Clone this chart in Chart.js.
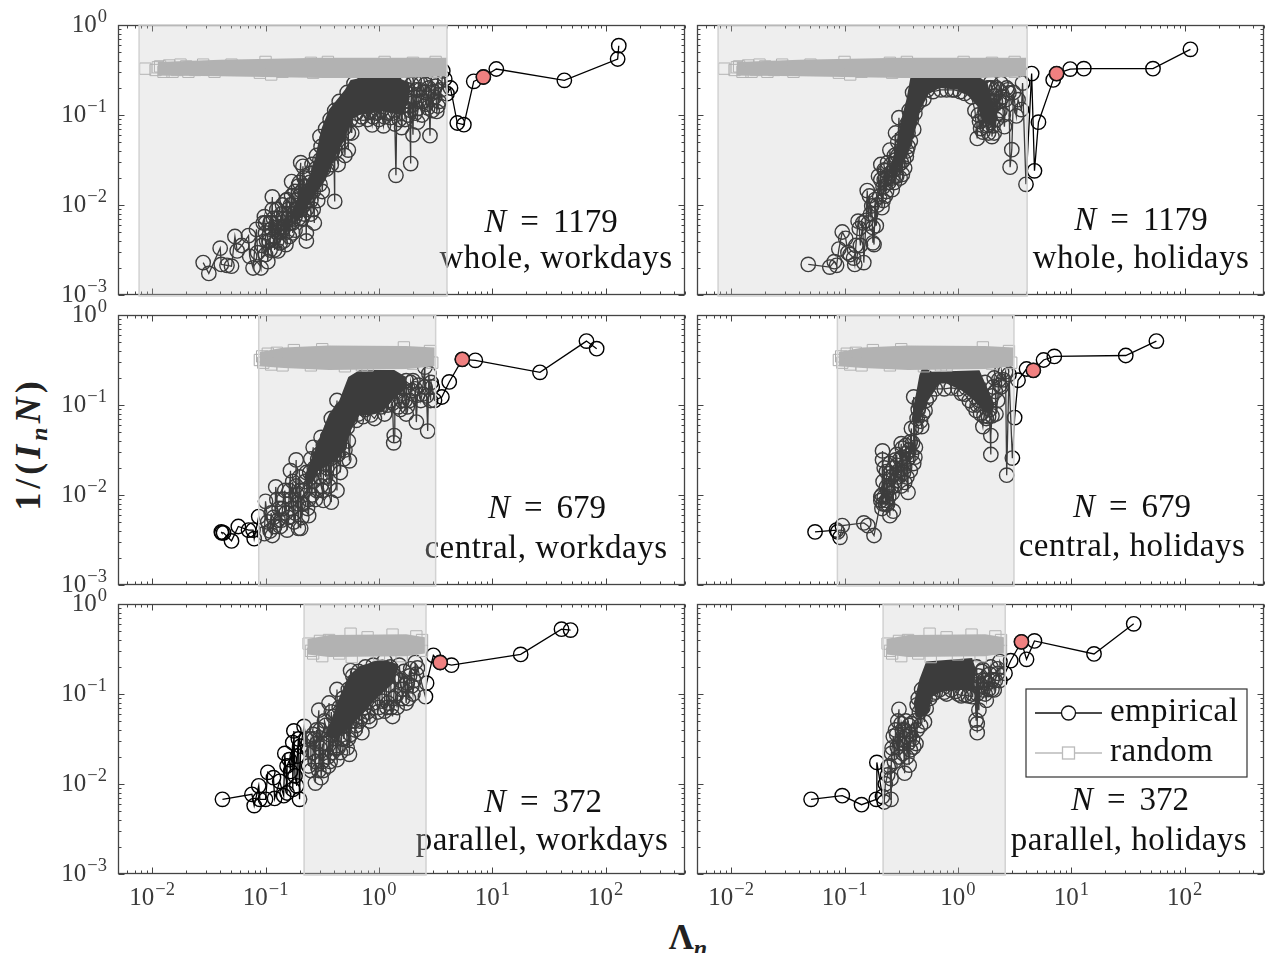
<!DOCTYPE html>
<html>
<head>
<meta charset="utf-8">
<script src="https://cdn.jsdelivr.net/npm/chart.js@4"></script>
<style>
  html, body { margin: 0; background: #fff; }
  body { position: relative; width: 1265px; height: 953px; overflow: hidden; font-family: "Liberation Serif", serif; }
  canvas { position: absolute; }
  .axisTitle { position: absolute; font-weight: bold; color: #222; white-space: nowrap; }
  .axisTitle sub { font-size: 24px; font-style: italic; vertical-align: -7px; line-height: 0; }
  #yTitle { left: 28px; top: 444px; font-size: 36px; letter-spacing: 4px; transform: translate(-50%, -50%) rotate(-90deg); }
  #xTitle { left: 688px; top: 938px; font-size: 35px; transform: translate(-50%, -50%); }
</style>
</head>
<body>
<div class="axisTitle" id="yTitle">1/(<i>I</i><sub>n</sub><i>N</i>)</div>
<div class="axisTitle" id="xTitle">Λ<sub>n</sub></div>
<script>
// all values as [log10(Lambda_n), log10(1/(I_n N))]
const xTickExps = [-2, -1, 0, 1, 2];
const yTickExps = [0, -1, -2, -3];

const wholeRandom = [[-2.06,-.485],[-1.97,-.5],[-1.95,-.47],[-1.93,-.46],[-1.9,-.52],[-1.88,-.49],[-1.85,-.45],[-1.82,-.52],[-1.78,-.5],[-1.75,-.44],[-1.7,-.46],[-1.68,-.52],[-1.62,-.5],[-1.55,-.44],[-1.45,-.52],[-1.3,-.44],[-1.05,-.53],[-1,-.41],[-.95,-.55],[-.85,-.52],[-.6,-.42],[-.58,-.53],[-.45,-.41],[-.2,-.52],[.05,-.41],[.3,-.42],[.5,-.41],[.5,-.52]];
const centralRandom = [[-1.05,-.5],[-1.03,-.46],[-1.02,-.53],[-.98,-.43],[-.95,-.55],[-.9,-.42],[-.85,-.56],[-.75,-.39],[-.6,-.56],[-.5,-.38],[-.3,-.57],[-.15,-.56],[-.1,-.56],[.22,-.36],[.3,-.54],[.45,-.4],[.47,-.53]];
const parallelRandom = [[-.62,-.44],[-.6,-.52],[-.58,-.55],[-.52,-.41],[-.5,-.58],[-.44,-.4],[-.35,-.55],[-.25,-.33],[-.24,-.59],[-.1,-.37],[0,-.56],[.12,-.34],[.2,-.58],[.33,-.36],[.38,-.4],[.38,-.52]];

// outline of where the random squares merge into a solid band
const wholeRandomBand = [[-1.95,-.41],[-1.4,-.385],[-.5,-.365],[.2,-.365],[.6,-.365],[.6,-.57],[.2,-.59],[-.5,-.59],[-1.4,-.57],[-1.95,-.56]];
const centralRandomBand = [[-1.05,-.41],[-.84,-.36],[-.44,-.34],[.24,-.345],[.49,-.36],[.49,-.57],[.24,-.6],[-.44,-.61],[-.84,-.59],[-1.05,-.57]];
const parallelRandomBand = [[-.63,-.39],[-.44,-.345],[.24,-.335],[.405,-.37],[.405,-.55],[.24,-.58],[-.44,-.59],[-.63,-.56]];

const wholeWork = [[-1.55,-2.64],[-1.5,-2.76],[-1.4,-2.48],[-1.39,-2.66],[-1.34,-2.67],[-1.3,-2.68],[-1.27,-2.35],[-1.25,-2.51],[-1.21,-2.45],[-1.15,-2.34],[-1.14,-2.57],[-1.11,-2.7],[-1.08,-2.27],[-1.07,-2.53],[-1.04,-2.7],[-1.01,-2.13],[-1,-2.31],[-.98,-2.63],[-.94,-1.91],[-.94,-2.05],[-.95,-2.27],[-.89,-2.51],[-.87,-2.24],[-.82,-2.44],[-.81,-1.94],[-.77,-1.74],[-.76,-2.31],[-.74,-2.13],[-.69,-1.53],[-.67,-1.57],[-.64,-2.4],[-.57,-2.2],[-.58,-2.05],[-.64,-2.31],[-.67,-2.01],[-.71,-1.79],[-.52,-1.77],[-.39,-1.96],[-.385,-1.2],[-.44,-1.46],[-.52,-1.24],[-.27,-1.39],
[-1,-2.2],[-.97,-2.4],[-.93,-2.15],[-.92,-2.35],[-.9,-2.05],[-.88,-2.3],[-.86,-2.1],[-.84,-2.25],[-.82,-1.95],[-.8,-2.15],[-.78,-2],[-.76,-2.2],[-.74,-1.85],[-.72,-2.05],[-.7,-1.9],[-.68,-2.15],[-.66,-1.7],[-.64,-2.05],[-.62,-1.9],[-.6,-1.65],[-.6,-2.1],[-.58,-1.85],[-.56,-1.6],[-.54,-1.95],[-.52,-1.5],[-.5,-1.85],[-.48,-1.4],[-.46,-1.6],[-.44,-1.3],[-.42,-1.55],[-.4,-1.2],[-.38,-1.4],[-.36,-1.55],[-.33,-1.3],[-.3,-1.45],[-.27,-1.2],[-.24,-1.2],
[-1.03,-2.45],[-1.02,-2.2],[-1,-2.55],[-.99,-2.4],[-.96,-2.5],[-.96,-2.2],[-.94,-2.38],[-.92,-2.5],[-.91,-2.25],[-.9,-2.4],[-.89,-2.15],[-.87,-2.42],[-.86,-2.3],[-.85,-2],[-.84,-2.4],[-.83,-2.15],[-.81,-2.3],[-.8,-2.05],[-.79,-2.35],[-.78,-2.2],[-.77,-1.9],[-.75,-2.1],[-.74,-2.28],[-.73,-1.95],[-.71,-2.15],[-.7,-1.75],[-.69,-2.05],[-.68,-1.85],[-.66,-2.1],[-.65,-1.8],[-.63,-1.95],[-.61,-1.75],[-.6,-1.95],[-.59,-1.55],[-.57,-1.75],[-.55,-1.45],[-.53,-1.65],[-.51,-1.35],[-.49,-1.6],[-.47,-1.15],[-.45,-1.45],[-.43,-1.05],[-.41,-1.4],[-.39,-.95],[-.37,-1.25],[-.35,-.85],[-.31,-1.15],[-.28,-.75],[-.25,-1.05],[-.22,-.65],[-.2,-.98],
[-.18,-1.05],[-.15,-1.02],[-.14,-.98],[-.12,-.6],[-.1,-1.05],[-.08,-.97],[-.06,-1.11],[-.05,-1.02],[-.02,-.98],[0,-1.05],[.02,-.95],[.04,-1.12],[.05,-1.02],[.08,-.98],[.1,-1.03],[.12,-.98],[.13,-.62],[.14,-1.1],[.15,-1.67],[.16,-.7],[.18,-1.05],[.19,-.8],[.2,-1.14],[.21,-.9],[.22,-.65],[.23,-1.05],[.24,-.62],[.25,-.72],[.26,-1],[.27,-.85],[.28,-1.54],[.28,-.95],[.29,-.66],[.3,-1.22],[.31,-.62],[.31,-.8],[.32,-.98],[.33,-.72],[.34,-1.08],[.34,-.93],[.35,-.85],[.36,-.72],[.37,-.65],[.38,-1],[.39,-.85],[.4,-.75],[.41,-.66],[.42,-.88],[.43,-.92],[.44,-.7],[.45,-1.23],[.46,-.6],[.47,-.95],[.48,-.74],[.49,-.8],[.5,-.68],[.51,-.96],[.52,-.9],[.52,-.62],[.53,-.85],[.55,-.72],[.563,-.51],[.58,-.6],
[.6,-.763],[.631,-.7],[.691,-1.089],[.749,-1.107],[.836,-.626],[.921,-.578],[1.035,-.489],[1.635,-.615],[2.105,-.378],[2.115,-.23]];
const wholeWorkCore = [[-.78,-2.1],[-.64,-1.79],[-.56,-1.46],[-.51,-1.16],[-.44,-.94],[-.3,-.72],[-.25,-.61],[-.13,-.58],[.17,-.59],[.27,-.64],[.27,-.83],[.2,-1],[.03,-.96],[-.17,-1],[-.24,-1.05],[-.3,-1.27],[-.4,-1.5],[-.47,-1.72],[-.57,-1.9],[-.72,-2.2]];
const wholeWorkPeak = [[.921,-.578]];

const wholeHoli = [[-1.32,-2.66],[-1.13,-2.69],[-1.09,-2.63],[-1.07,-2.67],[-1.05,-2.49],[-1.02,-2.3],[-.99,-2.37],[-.97,-2.53],[-.92,-2.59],[-.91,-2.66],[-.88,-2.18],[-.87,-2.26],[-.83,-2.64],[-.81,-2.17],[-.8,-1.84],[-.78,-1.9],[-.76,-2.01],[-.75,-2.42],[-.74,-2.44],[-.73,-1.94],[-.72,-2.23],[-.7,-1.68],[-.68,-1.55],[-.67,-2.03],[-.65,-1.61],[-.65,-1.72],[-.62,-1.53],[-.6,-1.39],[-.58,-1.83],[-.57,-1.61],[-.55,-1.2],[-.55,-1.5],[-.54,-1.68],[-.52,-1.03],[-.5,-1.39],[-.5,-1.53],[-.49,-1.66],[-.47,-1.59],[-.455,-1.46],[-.44,-1.35],[-.42,-1.29],[-.39,-1.16],
[-.66,-1.8],[-.64,-1.9],[-.62,-1.7],[-.6,-1.65],[-.56,-1.75],[-.53,-1.45],[-.47,-1.3],[-.45,-1.1],[-.42,-1],[-.38,-.98],[-.34,-.85],
[-.95,-2.55],[-.9,-2.45],[-.86,-2.45],[-.84,-2.2],[-.79,-2.2],[-.77,-2.1],[-.75,-2.25],[-.71,-2],[-.69,-1.9],[-.68,-1.72],[-.66,-1.95],[-.64,-1.62],[-.63,-1.85],[-.61,-1.75],[-.59,-1.55],[-.58,-1.7],[-.56,-1.45],[-.55,-1.68],[-.53,-1.3],[-.52,-1.55],[-.51,-1.7],[-.49,-1.25],[-.48,-1.5],[-.46,-1.15],[-.45,-1.4],[-.44,-1.2],[-.43,-.95],[-.41,-1.05],[-.4,-.75],[-.37,-.9],[-.35,-.75],[-.3,-.82],[-.27,-.72],[-.22,-.74],[-.15,-.72],[-.1,-.72],[-.05,-.72],[.02,-.74],[.06,-.76],[.12,-.8],[.15,-.95],[.18,-1],[.2,-1.15],[.23,-1],[.25,-1.12],[.26,-.7],[.27,-1.2],[.28,-.9],[.3,-.7],[.31,-1.12],[.33,-.85],[.34,-1.05],[.36,-.72],[.37,-.95],[.39,-.8],[.4,-1],[.43,-.7],
[-.03,-.72],[.1,-.62],[.17,-1.26],[.19,-1.07],[.21,-.75],[.22,-1.19],[.24,-.95],[.255,-.83],[.27,-1.11],[.28,-.7],[.29,-.64],[.3,-1.24],[.31,-.9],[.32,-1.2],[.32,-.79],[.34,-.7],[.35,-.98],[.37,-.85],[.38,-.65],[.41,-1.13],[.42,-.83],[.44,-.72],[.45,-.755],[.46,-1.58],[.475,-1.385],[.49,-.75],[.515,-1.01],[.53,-.83],[.56,-.94],[.57,-.645],[.6,-1.77],[.65,-.54],[.675,-1.62],[.71,-1.08],[.84,-.61],[.87,-.54],[.99,-.49],[1.11,-.485],[1.72,-.485],[2.05,-.27]];
const wholeHoliCore = [[-.6,-1.6],[-.55,-1.39],[-.5,-1.05],[-.455,-.83],[-.42,-.59],[-.36,-.58],[.19,-.58],[.26,-.64],[.3,-.83],[.35,-1.01],[.33,-1.14],[.22,-1.09],[.17,-.9],[.09,-.79],[0,-.72],[-.16,-.7],[-.26,-.77],[-.33,-.94],[-.39,-1.24],[-.455,-1.46],[-.54,-1.61],[-.58,-1.72]];
const wholeHoliPeak = [[.87,-.54]];

const centralWork = [[-1.39,-2.41],[-1.385,-2.42],[-1.37,-2.42],[-1.3,-2.51],[-1.24,-2.35],[-1.15,-2.39],[-1.11,-2.39],[-1.1,-2.485],[-1.06,-2.24],[-1.01,-2.43],[-1,-2.07],[-.94,-2.45],[-.91,-1.91],[-.89,-2.28],[-.81,-2.39],[-.78,-1.73],[-.73,-1.61],[-.71,-2.37],[-.69,-2.37],[-.62,-2.23],[-.58,-1.47],[-.51,-1.36],[-.49,-2.06],[-.42,-2.08],[-.42,-1.15],[-.37,-1.95],[-.37,-.95],[-.26,-1.62],
[-.95,-2.2],[-.9,-2.05],[-.87,-2.35],[-.85,-2.15],[-.83,-1.95],[-.8,-2.25],[-.78,-2.05],[-.76,-1.85],[-.74,-2.2],[-.72,-2],[-.7,-1.8],[-.68,-2.25],[-.66,-1.95],[-.64,-1.75],[-.62,-2.05],[-.6,-1.6],[-.58,-1.85],[-.56,-2.05],[-.54,-1.6],[-.52,-1.8],[-.5,-1.95],[-.48,-1.5],[-.46,-1.7],[-.44,-1.9],[-.42,-1.45],[-.4,-1.7],[-.38,-1.35],[-.36,-1.55],[-.34,-1.75],[-.32,-1.3],[-.3,-1.5],[-.28,-1.25],
[-.98,-2.3],[-.96,-2.4],[-.93,-2.25],[-.92,-2.35],[-.88,-2.15],[-.86,-2.28],[-.84,-2.05],[-.82,-2.2],[-.79,-1.95],[-.77,-2.15],[-.75,-2.3],[-.73,-1.9],[-.71,-2.1],[-.69,-1.95],[-.67,-2.1],[-.65,-1.85],[-.63,-2.15],[-.61,-1.75],[-.59,-2],[-.57,-1.7],[-.55,-1.95],[-.53,-1.55],[-.51,-1.9],[-.49,-1.45],[-.47,-1.8],[-.45,-1.35],[-.43,-1.6],[-.41,-1.25],[-.39,-1.55],[-.37,-1.15],[-.35,-1.45],[-.33,-1.05],[-.31,-1.6],[-.29,-1.2],[-.27,-1.4],[-.25,-1.15],[-.22,-1.05],[-.18,-1.1],[-.12,-1.05],[-.04,-1.15],[.02,-1.02],[.08,-1],[.12,-.98],[.16,-.85],[.19,-1.05],[.22,-.82],[.23,-.95],[.27,-.95],[.28,-.75],[.32,-.82],[.35,-.78],[.38,-.88],[.42,-.9],[.46,-.75],
[-.2,-1.17],[-.14,-1.13],[-.07,-1.11],[.05,-1.1],[.1,-.95],[.13,-1.42],[.135,-1.34],[.14,-.75],[.17,-1.02],[.2,-.95],[.24,-1.1],[.24,-.73],[.25,-1.02],[.29,-.84],[.3,-.73],[.33,-1.19],[.34,-.89],[.37,-.95],[.405,-.58],[.405,-.8],[.43,-1.29],[.44,-.65],[.455,-.95],[.47,-.8],[.49,-.948],[.555,-.911],[.62,-.744],[.735,-.493],[.85,-.504],[1.42,-.637],[1.83,-.29],[1.92,-.374]];
const centralWorkCore = [[-.66,-1.8],[-.59,-1.58],[-.51,-1.32],[-.44,-1.1],[-.35,-.95],[-.27,-.69],[-.17,-.61],[.135,-.61],[.24,-.69],[.24,-.82],[.135,-.93],[.03,-1.08],[-.07,-1.11],[-.17,-1.11],[-.24,-1.26],[-.3,-1.5],[-.37,-1.61],[-.47,-1.69],[-.54,-1.74],[-.62,-1.92]];
const centralWorkPeak = [[.735,-.493]];

const centralHoli = [[-1.26,-2.41],[-1.07,-2.39],[-1.06,-2.41],[-1.04,-2.47],[-1.02,-2.34],[-.83,-2.31],[-.795,-2.34],[-.74,-2.45],[-.68,-2.06],[-.68,-2.02],[-.67,-2.15],[-.665,-1.51],[-.665,-1.61],[-.65,-2.02],[-.63,-2.06],[-.63,-1.74],[-.63,-1.91],[-.62,-2.1],[-.6,-2.23],[-.6,-1.76],[-.585,-1.91],[-.57,-2.18],[-.55,-1.61],[-.55,-1.84],[-.535,-1.67],[-.52,-1.73],[-.5,-1.43],[-.49,-1.58],[-.47,-1.86],[-.47,-1.69],[-.455,-1.54],[-.44,-1.97],[-.42,-1.73],[-.42,-1.41],[-.41,-1.26],[-.39,-1.65],[-.39,-.91],[-.375,-1.47],[-.36,-1.15],[-.34,-.985],[-.32,-1.24],[-.29,-1.06],
[-.67,-2],[-.66,-2.1],[-.66,-1.85],[-.65,-1.7],[-.64,-2.1],[-.62,-1.95],[-.61,-2.02],[-.6,-1.65],[-.59,-1.8],[-.58,-1.98],[-.57,-1.7],[-.56,-1.9],[-.54,-1.55],[-.53,-1.8],[-.51,-1.6],[-.5,-1.9],[-.49,-1.48],[-.48,-1.75],[-.46,-1.45],[-.45,-1.8],[-.44,-1.6],[-.43,-1.5],[-.41,-1.55],[-.4,-1.42],[-.38,-1.58],[-.37,-1.25],[-.35,-1.05],[-.33,-1.18],[-.31,-1.1],[-.28,-.95],[-.25,-.9],[-.2,-.82],[-.12,-.82],[0,-.82],[.06,-.88],[.1,-.95],[.13,-1],[.17,-1],[.2,-1.1],[.23,-1.12],[.25,-1.15],[.28,-1.05],[.3,-1.12],[.31,-.8],[.33,-.85],[.35,-.95],[.38,-.8],[.4,-.72],
[-.06,-.81],[.03,-.87],[.16,-1.06],[.19,-.95],[.22,-1.24],[.24,-.75],[.27,-1.13],[.29,-1.55],[.29,-1.34],[.3,-.9],[.32,-.7],[.335,-1.1],[.36,-.72],[.37,-.78],[.385,-.63],[.42,-.63],[.43,-1.78],[.45,-.66],[.48,-1.59],[.5,-1.14],[.53,-.725],[.605,-.6],[.665,-.615],[.755,-.5],[.85,-.46],[1.48,-.45],[1.75,-.29]];
const centralHoliCore = [[-.41,-1.17],[-.375,-.91],[-.34,-.67],[-.31,-.57],[-.23,-.63],[.19,-.615],[.255,-.8],[.32,-.985],[.3,-1.115],[.22,-1.06],[.125,-.93],[.03,-.84],[-.1,-.76],[-.165,-.76],[-.23,-.89],[-.295,-1.02],[-.34,-1.21]];
const centralHoliPeak = [[.665,-.615]];

const parallelWork = [[-1.38,-2.17],[-1.12,-2.115],[-1.1,-2.24],[-1.06,-2.02],[-1.05,-2.17],[-1,-2.17],[-.98,-1.87],[-.93,-1.93],[-.92,-2.16],[-.875,-1.97],[-.84,-2.13],[-.83,-1.66],[-.81,-2.1],[-.81,-1.8],[-.79,-1.73],[-.78,-1.86],[-.76,-1.54],[-.76,-2.06],[-.75,-1.41],[-.74,-1.91],[-.725,-2.02],[-.72,-1.69],[-.71,-1.5],[-.7,-2.17],[-.69,-1.58],[-.66,-1.36],
[-.62,-1.8],[-.6,-1.5],[-.58,-1.65],[-.57,-1.5],[-.56,-1.99],[-.55,-1.4],[-.53,-1.18],[-.52,-1.6],[-.51,-1.93],[-.5,-1.75],[-.48,-1.3],[-.46,-1.55],[-.445,-1.8],[-.44,-1.1],[-.43,-1.75],[-.4,-1.25],[-.38,-1.6],[-.37,-1.73],[-.37,-.95],[-.35,-1.15],[-.33,-1.5],[-.3,-1.35],[-.28,-1.6],[-.26,-1.67],[-.25,-.74],[-.25,-1.45],[-.22,-.9],[-.2,-1.35],[-.18,-.75],[-.15,-1.43],[-.15,-1.25],[-.12,-.7],[-.1,-1.2],[-.08,-1.3],[-.05,-.68],[0,-1.15],[.05,-1.19],[.05,-.63],[.08,-1.1],[.1,-.7],[.12,-1.25],[.13,-1.05],[.15,-1.02],[.18,-.68],[.2,-.95],[.22,-.75],[.24,-1.1],[.25,-.88],[.28,-.72],[.29,-.91],[.3,-1],[.32,-.65],[.34,-.71],
[-.64,-1.5],[-.62,-1.62],[-.6,-1.85],[-.58,-1.45],[-.56,-1.75],[-.55,-1.55],[-.53,-1.85],[-.52,-1.4],[-.5,-1.55],[-.49,-1.85],[-.47,-1.35],[-.45,-1.7],[-.44,-1.45],[-.42,-1.2],[-.41,-1.65],[-.39,-1.4],[-.36,-1.6],[-.35,-1.35],[-.34,-1.65],[-.32,-1.05],[-.31,-1.5],[-.29,-1.2],[-.27,-1.5],[-.27,-.95],[-.24,-1.3],[-.23,-.8],[-.21,-1.4],[-.19,-1.15],[-.17,-1.3],[-.16,-.85],[-.13,-1.15],[-.11,-.8],[-.09,-1.25],[-.07,-.9],[-.05,-1.1],[-.03,-.72],[-.01,-1.2],[.02,-.85],[.03,-1.08],[.06,-.72],[.07,-1.15],[.09,-.9],[.11,-1.15],[.14,-.8],[.16,-1.15],[.19,-.85],[.21,-1.05],[.23,-.9],[.26,-1.05],[.27,-.8],[.31,-.85],[.33,-.78],
[.41,-1.03],[.42,-.88],[.48,-.57],[.54,-.65],[.64,-.68],[1.25,-.56],[1.61,-.28],[1.69,-.29]];
const parallelWorkCore = [[-.47,-1.47],[-.37,-1.1],[-.27,-.8],[-.17,-.69],[.03,-.615],[.17,-.67],[.135,-.87],[-.03,-1.06],[-.135,-1.21],[-.27,-1.39],[-.37,-1.5]];
const parallelWorkPeak = [[.54,-.65]];

const parallelHoli = [[-1.295,-2.17],[-1.02,-2.13],[-.85,-2.23],[-.72,-2.17],[-.715,-1.76],[-.665,-2.14],[-.65,-2.2],[-.615,-1.81],[-.59,-2.17],[-.59,-1.94],[-.585,-1.66],[-.57,-1.47],[-.55,-1.4],[-.535,-1.59],[-.52,-1.17],[-.52,-1.7],[-.5,-1.33],[-.485,-1.66],[-.47,-1.88],[-.47,-1.4],[-.455,-1.47],[-.43,-1.79],[-.42,-1.62],[-.41,-1.33],[-.39,-1.59],[-.36,-1.4],[-.36,-1.12],[-.34,-1.2],[-.295,-1.31],[-.28,-1.16],
[-.64,-2],[-.62,-1.9],[-.6,-1.8],[-.58,-1.6],[-.56,-1.75],[-.54,-1.45],[-.53,-1.3],[-.51,-1.55],[-.49,-1.4],[-.48,-1.55],[-.46,-1.3],[-.45,-1.7],[-.44,-1.55],[-.43,-1.35],[-.42,-1.45],[-.4,-1.5],[-.38,-1.3],[-.37,-1.55],[-.35,-1.05],[-.33,-1.35],[-.32,-.95],[-.31,-1.15],[-.29,-1.05],[-.27,-.9],[-.25,-1.05],[-.22,-1],[-.2,-.98],[-.12,-.98],[-.1,-1],[-.02,-.97],[0,-1],[.03,-1.02],[.09,-1.02],[.13,-1],[.15,-.9],[.17,-1],[.18,-.8],[.2,-.9],[.23,-.85],[.24,-1],[.27,-.95],[.28,-.78],[.3,-.95],[.33,-.85],[.35,-.72],[.37,-.85],
[-.165,-.955],[-.06,-.955],[.06,-1.01],[.125,-1.03],[.16,-1.29],[.165,-.7],[.17,-1.43],[.17,-1.33],[.185,-1.18],[.19,-.92],[.21,-.75],[.22,-.73],[.22,-.955],[.25,-1.07],[.26,-.88],[.29,-.7],[.3,-.84],[.32,-.955],[.35,-.77],[.37,-.64],[.415,-.77],[.465,-.63],[.56,-.42],[.605,-.615],[.675,-.41],[1.2,-.555],[1.55,-.22]];
const parallelHoliCore = [[-.39,-1.1],[-.34,-.84],[-.28,-.64],[.125,-.6],[.16,-.73],[.14,-.955],[.03,-.955],[-.13,-.97],[-.23,-1.03],[-.26,-1.21],[-.33,-1.27],[-.375,-1.25]];
const parallelHoliPeak = [[.56,-.42]];

// shaded interval on the x axis, log10 values
const wholeWorkShade = [-2.115, .6];
const wholeHoliShade = [-2.115, .61];
const centralWorkShade = [-1.06, .5];
const centralHoliShade = [-1.063, .494];
const parallelWorkShade = [-.66, .415];
const parallelHoliShade = [-.66, .417];

const SERIF = '"Liberation Serif", serif';

function toPoints(pairs) {
  return pairs.map(p => ({ x: Math.pow(10, p[0]), y: Math.pow(10, p[1]) }));
}

function powerLabel(ctx, exp, x, y, align) {
  const base = '10';
  const sup = exp < 0 ? '\u2212' + Math.abs(exp) : String(exp);
  ctx.font = `25px ${SERIF}`;
  const w1 = ctx.measureText(base).width;
  ctx.font = `18.5px ${SERIF}`;
  const w2 = ctx.measureText(sup).width;
  const left = align === 'right' ? x - w1 - w2 - 1 : x - (w1 + w2 + 1) / 2;
  ctx.fillStyle = '#3a3a3a';
  ctx.textAlign = 'left';
  ctx.textBaseline = 'alphabetic';
  ctx.font = `25px ${SERIF}`;
  ctx.fillText(base, left, y);
  ctx.font = `18.5px ${SERIF}`;
  ctx.fillText(sup, left + w1 + 1, y - 10);
}

function drawTicks(ctx, scale, exps, horizontal, a, b) {
  const minors = [2, 3, 4, 5, 6, 7, 8, 9];
  const lo = Math.floor(Math.log10(scale.min));
  const hi = Math.ceil(Math.log10(scale.max));
  ctx.beginPath();
  for (let e = lo; e <= hi; e++) {
    [1].concat(minors).forEach(m => {
      const v = m * Math.pow(10, e);
      if (v < scale.min || v > scale.max) return;
      const p = Math.round(scale.getPixelForValue(v)) + 0.5;
      const len = m === 1 ? 6 : 3;
      if (horizontal) {
        ctx.moveTo(p, a); ctx.lineTo(p, a - len);
        ctx.moveTo(p, b); ctx.lineTo(p, b + len);
      } else {
        ctx.moveTo(a, p); ctx.lineTo(a + len, p);
        ctx.moveTo(b, p); ctx.lineTo(b - len, p);
      }
    });
  }
  ctx.stroke();
}

function drawLegend(ctx) {
  ctx.fillStyle = '#fff';
  ctx.fillRect(1026 - cols[1].left, 689 - rows[2].top, 221, 88);
  ctx.strokeStyle = '#333';
  ctx.lineWidth = 1.2;
  ctx.strokeRect(1026 - cols[1].left, 689 - rows[2].top, 221, 88);
  const x0 = 1035 - cols[1].left, x1 = 1102 - cols[1].left, xm = (x0 + x1) / 2;
  const y1 = 713 - rows[2].top, y2 = 753 - rows[2].top;
  ctx.lineWidth = 1.3;
  ctx.strokeStyle = '#111';
  ctx.beginPath(); ctx.moveTo(x0, y1); ctx.lineTo(xm - 7, y1); ctx.moveTo(xm + 7, y1); ctx.lineTo(x1, y1); ctx.stroke();
  ctx.beginPath(); ctx.arc(xm, y1, 7, 0, Math.PI * 2); ctx.stroke();
  ctx.strokeStyle = '#bbb';
  ctx.lineWidth = 1.3;
  ctx.beginPath(); ctx.moveTo(x0, y2); ctx.lineTo(xm - 6, y2); ctx.moveTo(xm + 6, y2); ctx.lineTo(x1, y2); ctx.stroke();
  ctx.strokeRect(xm - 6, y2 - 6, 12, 12);
  ctx.fillStyle = '#111';
  ctx.textAlign = 'left';
  ctx.textBaseline = 'alphabetic';
  ctx.font = `33px ${SERIF}`;
  ctx.letterSpacing = '0.4px';
  ctx.fillText('empirical', 1110 - cols[1].left, 721 - rows[2].top);
  ctx.fillText('random', 1110 - cols[1].left, 761 - rows[2].top);
  ctx.letterSpacing = '0px';
}

function panelPlugin(cfg) {
  return {
    id: 'panelDecor',
    afterDraw(chart) {
      const ctx = chart.ctx;
      const { left, right, top, bottom } = chart.chartArea;
      const sx = chart.scales.x, sy = chart.scales.y;
      ctx.save();

      // annotation, under the shaded patch like in the figure
      const ox = cols[cfg.col].left, oy = rows[cfg.row].top;
      ctx.fillStyle = '#111';
      ctx.textBaseline = 'alphabetic';
      ctx.textAlign = 'left';
      ctx.font = `33px ${SERIF}`;
      const rest = cfg.count;
      const restW = ctx.measureText(rest).width;
      const eqW = ctx.measureText('=').width;
      ctx.font = `italic 33px ${SERIF}`;
      const nW = ctx.measureText('N').width;
      const total = nW + 14 + eqW + 14 + restW;
      const nx = cfg.nX - ox - total / 2;
      ctx.fillText('N', nx, cfg.nY - oy);
      ctx.font = `33px ${SERIF}`;
      ctx.fillText('=', nx + nW + 14, cfg.nY - oy);
      ctx.fillText(rest, nx + nW + 14 + eqW + 14, cfg.nY - oy);
      ctx.textAlign = 'center';
      ctx.letterSpacing = '0.5px';
      ctx.fillText(cfg.label, cfg.labelX - ox, cfg.labelY - oy);
      ctx.letterSpacing = '0px';

      // frame and inward ticks on all four sides
      ctx.strokeStyle = '#444';
      ctx.lineWidth = 1;
      drawTicks(ctx, sx, xTickExps, true, bottom - 0.5, top + 0.5);
      drawTicks(ctx, sy, yTickExps, false, left + 0.5, right - 0.5);
      ctx.lineWidth = 1.3;
      ctx.strokeRect(left + 0.5, top + 0.5, right - left - 1, bottom - top - 1);

      // translucent patch goes over everything inside the axes
      const bx0 = sx.getPixelForValue(Math.pow(10, cfg.shade[0]));
      const bx1 = sx.getPixelForValue(Math.pow(10, cfg.shade[1]));
      ctx.fillStyle = 'rgba(200,200,200,0.3)';
      ctx.fillRect(bx0, top, bx1 - bx0, bottom - top + 1);
      ctx.strokeStyle = '#d2d2d2';
      ctx.lineWidth = 1.5;
      ctx.strokeRect(bx0, top, bx1 - bx0, bottom - top + 1);

      if (cfg.col === 0) {
        yTickExps.forEach(e => powerLabel(ctx, e, 107, sy.getPixelForValue(Math.pow(10, e)) + 7, 'right'));
      }
      if (cfg.row === 2) {
        xTickExps.forEach(e => powerLabel(ctx, e, sx.getPixelForValue(Math.pow(10, e)), bottom + 31, 'center'));
      }
      if (cfg.legend) drawLegend(ctx);
      ctx.restore();
    }
  };
}

const cols = [
  { left: 0, width: 691, plotLeft: 118, plotRight: 685 },
  { left: 691, width: 574, plotLeft: 697, plotRight: 1264 }
];
const rows = [
  { top: 0, height: 303, plotTop: 25 },
  { top: 297, height: 296, plotTop: 315 },
  { top: 587, height: 366, plotTop: 604 }
];

function makePanel(cfg) {
  const col = cols[cfg.col], row = rows[cfg.row];
  const canvas = document.createElement('canvas');
  canvas.width = col.width;
  canvas.height = row.height;
  canvas.style.left = col.left + 'px';
  canvas.style.top = row.top + 'px';
  canvas.style.width = col.width + 'px';
  canvas.style.height = row.height + 'px';
  document.body.appendChild(canvas);

  return new Chart(canvas, {
    type: 'scatter',
    data: {
      // first dataset ends up on top in Chart.js
      datasets: [
        { label: 'peak', data: toPoints(cfg.peak), pointRadius: 7, pointBackgroundColor: '#f08080', pointBorderColor: '#111', pointBorderWidth: 1.3, showLine: false },
        { label: 'random', data: toPoints(cfg.random), pointStyle: 'rect', pointRadius: 8, pointBackgroundColor: 'transparent', pointBorderColor: '#aaa', pointBorderWidth: 1, showLine: false },
        { label: 'random band', data: toPoints(cfg.randomBand), showLine: true, fill: 'shape', borderWidth: 0, backgroundColor: '#aaa', pointRadius: 0 },
        { label: 'empirical', data: toPoints(cfg.empirical).sort((a, b) => a.x - b.x), showLine: true, borderColor: '#000', borderWidth: 1.3, pointRadius: 7.2, pointBackgroundColor: 'transparent', pointBorderColor: '#000', pointBorderWidth: 1.4 },
        { label: 'empirical core', data: toPoints(cfg.core), showLine: true, fill: 'shape', borderWidth: 0, backgroundColor: '#000', pointRadius: 0 }
      ]
    },
    options: {
      responsive: false,
      animation: false,
      events: [],
      layout: {
        autoPadding: false,
        padding: {
          left: col.plotLeft - col.left,
          right: col.left + col.width - col.plotRight,
          top: row.plotTop - row.top,
          bottom: row.top + row.height - row.plotTop - 270
        }
      },
      plugins: { legend: { display: false }, tooltip: { enabled: false } },
      scales: {
        x: {
          type: 'logarithmic', min: 0.005, max: 500, bounds: 'data',
          grid: { display: false, drawTicks: false }, border: { display: false }, ticks: { display: false }
        },
        y: {
          type: 'logarithmic', min: 0.001, max: 1, bounds: 'data',
          grid: { display: false, drawTicks: false }, border: { display: false }, ticks: { display: false }
        }
      }
    },
    plugins: [panelPlugin(cfg)]
  });
}

makePanel({ col: 0, row: 0, empirical: wholeWork, core: wholeWorkCore, peak: wholeWorkPeak, random: wholeRandom, randomBand: wholeRandomBand, shade: wholeWorkShade, count: '1179', label: 'whole, workdays', nX: 551, nY: 232, labelX: 556, labelY: 268 });
makePanel({ col: 1, row: 0, empirical: wholeHoli, core: wholeHoliCore, peak: wholeHoliPeak, random: wholeRandom, randomBand: wholeRandomBand, shade: wholeHoliShade, count: '1179', label: 'whole, holidays', nX: 1141, nY: 230, labelX: 1141, labelY: 268 });
makePanel({ col: 0, row: 1, empirical: centralWork, core: centralWorkCore, peak: centralWorkPeak, random: centralRandom, randomBand: centralRandomBand, shade: centralWorkShade, count: '679', label: 'central, workdays', nX: 547, nY: 518, labelX: 546, labelY: 558 });
makePanel({ col: 1, row: 1, empirical: centralHoli, core: centralHoliCore, peak: centralHoliPeak, random: centralRandom, randomBand: centralRandomBand, shade: centralHoliShade, count: '679', label: 'central, holidays', nX: 1132, nY: 517, labelX: 1132, labelY: 556 });
makePanel({ col: 0, row: 2, empirical: parallelWork, core: parallelWorkCore, peak: parallelWorkPeak, random: parallelRandom, randomBand: parallelRandomBand, shade: parallelWorkShade, count: '372', label: 'parallel, workdays', nX: 543, nY: 812, labelX: 542, labelY: 850 });
makePanel({ col: 1, row: 2, empirical: parallelHoli, core: parallelHoliCore, peak: parallelHoliPeak, random: parallelRandom, randomBand: parallelRandomBand, shade: parallelHoliShade, count: '372', label: 'parallel, holidays', nX: 1130, nY: 810, labelX: 1129, labelY: 850, legend: true });
</script>
</body>
</html>
